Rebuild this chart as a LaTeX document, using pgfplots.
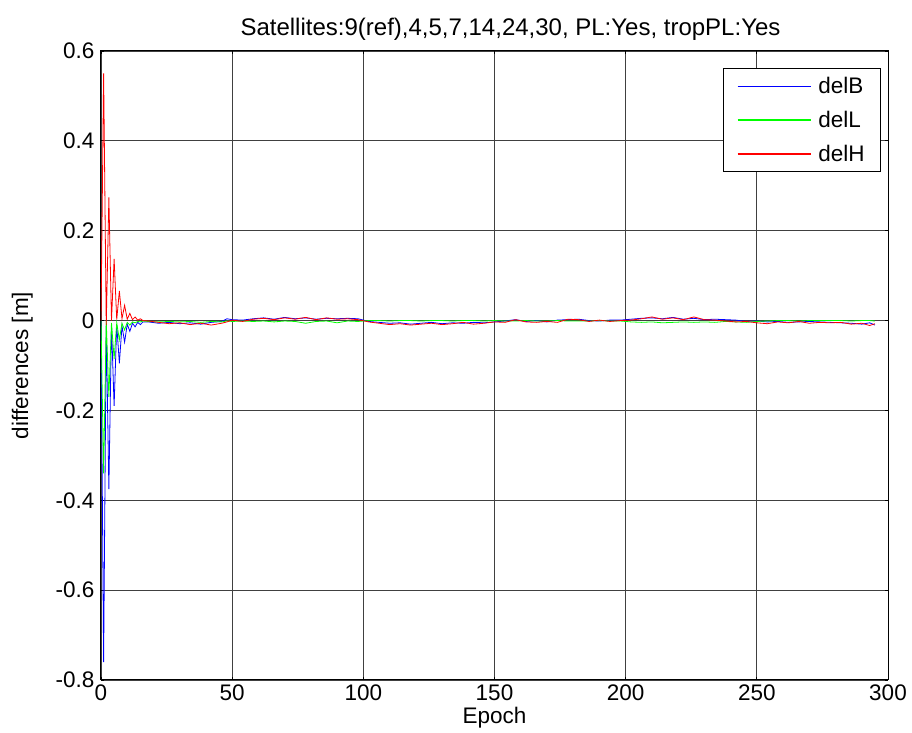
\documentclass[border=0pt]{standalone}
\usepackage{fontspec}
\setmainfont{Liberation Sans}
\usepackage{pgfplots}
\pgfplotsset{compat=1.18}
\usepackage{pgfplotstable}

\definecolor{mblue}{rgb}{0,0,1}
\definecolor{mgreen}{rgb}{0,1,0}
\definecolor{mred}{rgb}{1,0,0}

\pgfplotstableread{
x B L H
0 0 0 0
1 -0.760 -0.340 0.550
2 -0.010 0.000 -0.010
3 -0.375 -0.170 0.274
4 -0.010 -0.005 0.000
5 -0.190 -0.085 0.137
6 -0.010 -0.005 0.002
7 -0.095 -0.043 0.066
8 -0.012 -0.006 0.004
9 -0.048 -0.021 0.034
10 -0.008 -0.004 0.003
11 -0.024 -0.010 0.016
12 -0.006 -0.003 0.002
13 -0.014 -0.005 0.008
14 -0.004 -0.002 0.001
15 -0.009 -0.003 0.004
16 -0.003 -0.001 0.000
18 -0.003 -0.002 -0.001
22 -0.006 -0.003 -0.004
26 -0.004 -0.002 -0.007
30 -0.007 -0.003 -0.005
34 -0.005 -0.002 -0.009
38 -0.008 -0.004 -0.006
42 -0.004 -0.002 -0.010
46 -0.002 -0.003 -0.006
48 0.004 -0.001 -0.003
50 0.002 -0.002 0.001
54 0.001 -0.001 -0.002
58 0.004 -0.002 0.003
62 0.006 -0.001 0.005
66 0.003 -0.003 0.002
70 0.007 -0.001 0.006
74 0.004 -0.002 0.003
78 0.006 -0.006 0.007
82 0.003 -0.002 0.002
86 0.005 -0.001 0.006
90 0.004 -0.005 0.003
94 0.005 -0.001 0.004
98 0.004 -0.002 0.002
102 -0.002 0.000 -0.003
106 -0.004 0.000 -0.006
110 -0.006 -0.001 -0.009
114 -0.005 0.000 -0.007
118 -0.008 0.000 -0.010
122 -0.006 -0.001 -0.008
126 -0.004 0.000 -0.006
130 -0.007 0.000 -0.009
134 -0.005 -0.001 -0.007
138 -0.006 0.000 -0.004
142 -0.004 0.000 -0.008
146 -0.005 -0.001 -0.006
150 -0.003 0.000 -0.003
154 -0.001 -0.001 -0.004
158 0.002 -0.001 0.002
162 -0.002 0.000 -0.003
166 0.000 -0.001 -0.004
170 -0.003 -0.001 -0.002
174 0.001 0.000 -0.004
178 0.002 -0.001 0.003
182 0.003 -0.001 0.002
186 0.000 -0.001 -0.002
190 -0.001 0.000 0.001
194 0.001 -0.001 -0.002
198 0.001 -0.001 0.000
202 0.003 -0.003 0.001
206 0.005 -0.004 0.004
210 0.006 -0.003 0.008
214 0.004 -0.005 0.003
218 0.007 -0.004 0.006
222 0.003 -0.003 0.002
226 0.005 -0.004 0.008
230 0.002 -0.003 0.002
234 0.003 -0.004 0.001
238 0.002 -0.002 -0.001
242 0.001 -0.003 -0.003
246 -0.002 -0.004 -0.002
250 -0.001 -0.002 -0.005
254 -0.003 -0.001 -0.007
258 -0.002 0.000 -0.003
262 -0.004 0.000 -0.005
266 -0.003 -0.001 -0.002
270 -0.002 0.000 -0.006
274 -0.003 0.000 -0.004
278 -0.004 0.000 -0.005
282 -0.005 0.000 -0.004
286 -0.006 -0.001 -0.008
290 -0.008 0.000 -0.006
293 -0.005 0.000 -0.011
295 -0.010 -0.001 -0.007
}\datatable

\begin{document}
\begin{tikzpicture}
\begin{axis}[
  scale only axis,
  width=787pt, height=629pt,
  xmin=0, xmax=300, ymin=-0.8, ymax=0.6,
  xtick={0,50,100,150,200,250,300},
  xticklabels={0,50,100,150,200,250,300},
  ytick={-0.8,-0.6,-0.4,-0.2,0,0.2,0.4,0.6},
  yticklabels={-0.8,-0.6,-0.4,-0.2,0,0.2,0.4,0.6},
  tick align=inside,
  major tick length=3pt,
  tick style={black, line width=0.8pt},
  axis line style={black, line width=1pt},
  grid=major,
  major grid style={black!75, line width=0.7pt},
  ticklabel style={font=\fontsize{22.5}{26}\selectfont},
  xticklabel style={yshift=-1pt},
  yticklabel style={xshift=-3pt},
  label style={font=\fontsize{22.5}{26}\selectfont},
  title style={font=\fontsize{24}{28}\selectfont, yshift=1pt, xshift=16pt},
  title={Satellites:9(ref),4,5,7,14,24,30, PL:Yes, tropPL:Yes},
  xlabel={Epoch},
  ylabel={differences [m]},
  xlabel style={yshift=0pt},
  ylabel style={yshift=16pt},
  legend style={at={(rel axis cs:1,1)}, anchor=north east, xshift=-7pt, yshift=-17pt,
    draw=black, line width=0.8pt, font=\fontsize{22.5}{26}\selectfont,
    row sep=12pt, inner xsep=14pt, inner ysep=7pt},
  legend cell align=left,
  legend image code/.code={\draw[#1, line width=1.2pt] (0pt,0pt) -- (73pt,0pt);},
]
\addplot[mblue, line width=0.8pt] table[x=x, y=B] {\datatable};
\addlegendentry{\hspace{5pt}delB}
\addplot[mgreen, line width=0.8pt] table[x=x, y=L] {\datatable};
\addlegendentry{\hspace{5pt}delL}
\addplot[mred, line width=0.8pt] table[x=x, y=H] {\datatable};
\addlegendentry{\hspace{5pt}delH}
\end{axis}
\pgfresetboundingbox
\path[use as bounding box] ([shift={(-101pt,-53pt)}]current axis.south west) rectangle ([shift={(24pt,51pt)}]current axis.north east);
\end{tikzpicture}
\end{document}
